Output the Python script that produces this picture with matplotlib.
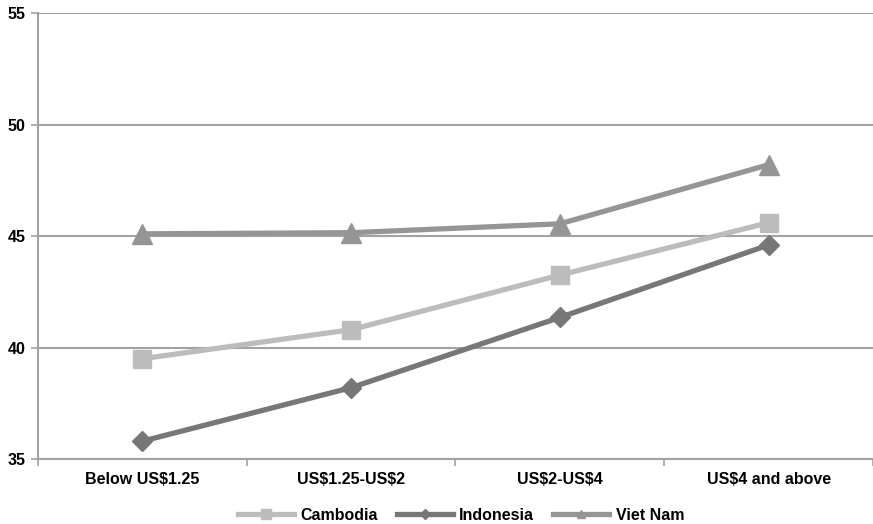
import matplotlib
matplotlib.use("Agg")
import matplotlib.pyplot as plt
from matplotlib.lines import Line2D

categories = ["Below US$1.25", "US$1.25-US$2", "US$2-US$4", "US$4 and above"]
cambodia = [39.5, 40.8, 43.25, 45.6]
indonesia = [35.8, 38.2, 41.35, 44.6]
vietnam = [45.1, 45.15, 45.55, 48.2]
yticks = [35, 40, 45, 50, 55]

plt.rcParams['font.family'] = ['Liberation Sans', 'DejaVu Sans']
plt.rcParams['text.parse_math'] = False

fig = plt.figure(figsize=(8.73, 5.24), dpi=100)
ax = fig.add_axes([0.0435, 0.124, 0.9565, 0.851])

grid_c = "#A2A2A5"
c_cam = "#BCBCBF"
c_ind = "#77777A"
c_vn = "#959598"

x = list(range(len(categories)))
ax.plot(x, cambodia, color=c_cam, lw=3.8, marker="s", ms=13, zorder=3)
ax.plot(x, indonesia, color=c_ind, lw=3.8, marker="D", ms=10, zorder=4)
ax.plot(x, vietnam, color=c_vn, lw=3.8, marker="^", ms=14, zorder=5)

fs = 11.5
ax.set_xlim(-0.5, 3.5)
ax.set_ylim(35, 55)
ax.set_yticks(yticks)
ax.set_yticklabels([str(v) for v in yticks], fontsize=fs, fontweight="bold")
ax.set_xticks(x)
ax.set_xticklabels(categories, fontsize=fs, fontweight="bold")
ax.set_xticks([-0.5, 0.5, 1.5, 2.5, 3.5], minor=True)
ax.tick_params(axis="x", which="major", length=0, pad=9)
ax.tick_params(axis="x", which="minor", length=5, color=grid_c, width=1.2)
ax.tick_params(axis="y", length=5, color=grid_c, width=1.2, pad=4)

for v in yticks:
    ax.axhline(v, color=grid_c, lw=1.5, zorder=1)
for s in ["top", "right"]:
    ax.spines[s].set_visible(False)
ax.spines["left"].set_color(grid_c)
ax.spines["left"].set_linewidth(1.5)
ax.spines["bottom"].set_color(grid_c)
ax.spines["bottom"].set_linewidth(1.5)

handles = [
    Line2D([], [], color=c_cam, lw=3.8, marker="s", ms=7),
    Line2D([], [], color=c_ind, lw=3.8, marker="D", ms=5),
    Line2D([], [], color=c_vn, lw=3.8, marker="^", ms=6),
]
fig.legend(handles, ["Cambodia", "Indonesia", "Viet Nam"], loc="lower center",
           bbox_to_anchor=(0.528, -0.025), ncol=3, frameon=False,
           prop={"weight": "bold", "size": fs}, handlelength=3.5,
           handletextpad=0.4, columnspacing=1.2)

fig.savefig("out.png", dpi=100)
